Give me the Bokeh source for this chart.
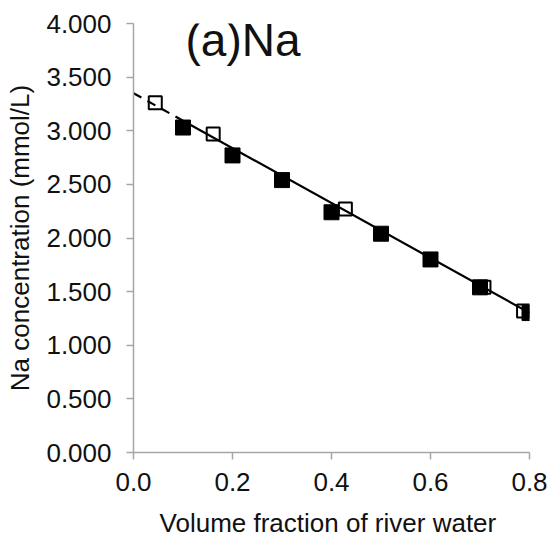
from bokeh.plotting import figure
from bokeh.models import ColumnDataSource, NumeralTickFormatter, FixedTicker, Label, Range1d
from bokeh.embed import file_html
from bokeh.resources import INLINE

# Measured samples (filled squares)
frac_measured = [0.1, 0.2, 0.3, 0.4, 0.5, 0.6, 0.7, 0.8]
na_measured = [3.03, 2.77, 2.54, 2.24, 2.04, 1.80, 1.54, 1.30]

# Additional samples (open squares)
frac_other = [0.044, 0.161, 0.428, 0.708, 0.788]
na_other = [3.26, 2.97, 2.27, 1.54, 1.32]

# Linear mixing line: Na = intercept + slope * fraction
fit_intercept = 3.35
fit_slope = -2.56
fit_dashed_x = [0.0, 0.1]
fit_solid_x = [0.1, 0.8]

x_ticks = [0.0, 0.2, 0.4, 0.6, 0.8]
y_ticks = [0.0, 0.5, 1.0, 1.5, 2.0, 2.5, 3.0, 3.5, 4.0]

FONT = "Liberation Sans"
AXIS_GRAY = "#a6a6a6"

p = figure(width=551, height=543, output_backend="svg", toolbar_location=None,
           x_range=Range1d(0, 0.8), y_range=Range1d(0, 4.0),
           min_border_left=133, min_border_right=22,
           min_border_top=23, min_border_bottom=91)
p.outline_line_color = None
p.grid.grid_line_color = None
p.background_fill_color = "white"
p.border_fill_color = "white"

def fit(xs):
    return [fit_intercept + fit_slope * v for v in xs]

p.line(fit_dashed_x, fit(fit_dashed_x), line_color="black", line_width=2.2, line_dash="9 7")
p.line(fit_solid_x, fit(fit_solid_x), line_color="black", line_width=2.2)

src_other = ColumnDataSource(dict(x=frac_other, y=na_other))
p.scatter("x", "y", source=src_other, marker="square", size=13,
          fill_color=None, line_color="black", line_width=2)

src_meas = ColumnDataSource(dict(x=frac_measured, y=na_measured))
p.scatter("x", "y", source=src_meas, marker="square", size=15,
          fill_color="black", line_color="black", line_width=1)

p.xaxis.ticker = FixedTicker(ticks=x_ticks)
p.yaxis.ticker = FixedTicker(ticks=y_ticks)
p.xaxis.formatter = NumeralTickFormatter(format="0.0")
p.yaxis.formatter = NumeralTickFormatter(format="0.000")

for ax in (p.xaxis[0], p.yaxis[0]):
    ax.axis_line_color = AXIS_GRAY
    ax.axis_line_width = 1.5
    ax.major_tick_line_color = AXIS_GRAY
    ax.major_tick_line_width = 1.5
    ax.major_tick_in = 0
    ax.major_tick_out = 7
    ax.minor_tick_line_color = None
    ax.major_label_text_font = FONT
    ax.major_label_text_font_size = "26px"
    ax.major_label_text_color = "#111111"
    ax.axis_label_text_font = FONT
    ax.axis_label_text_font_size = "26px"
    ax.axis_label_text_font_style = "normal"
    ax.axis_label_text_color = "#111111"

p.xaxis.axis_label = "Volume  fraction of river water"
p.yaxis.axis_label = "Na concentration (mmol/L)"
p.xaxis.major_label_standoff = 13
p.yaxis.major_label_standoff = 15
p.xaxis.axis_label_standoff = 14
p.yaxis.axis_label_standoff = 8

p.add_layout(Label(x=0.105, y=3.85, text="(a)Na", text_font=FONT,
                   text_font_size="46px", text_color="#111111",
                   text_baseline="alphabetic"))

open("out.html", "w").write(file_html(p, INLINE))
